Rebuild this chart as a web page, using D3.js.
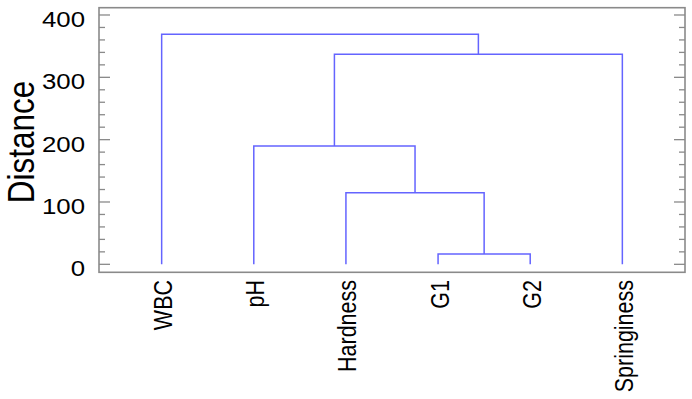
<!DOCTYPE html>
<html><head><meta charset="utf-8">
<script src="https://cdn.jsdelivr.net/npm/d3@7"></script>
<style>body{margin:0;background:#fff}svg{display:block}text{font-family:"Liberation Sans",Arial,sans-serif;fill:#000}</style>
</head><body>
<svg id="c" width="692" height="399"></svg>
<script>
// Data
const leaves = ["WBC", "pH", "Hardness", "G1", "G2", "Springiness"];
// merges: [left child, right child, distance]; merged clusters named m0, m1, ...
const mergeLeft = ["G1", "Hardness", "pH", "m2", "WBC"];
const mergeRight = ["G2", "m0", "m1", "Springiness", "m3"];
const mergeHeight = [16.5, 115, 190, 337, 369];
const yTicks = [0, 100, 200, 300, 400];
const yMinorTicks = d3.range(0, 401, 20);

const svg = d3.select("#c");
const L = 99, R = 685, T = 7.7, B = 272.3;
const sx = 1.2; // horizontal glyph stretch of the original
const x = d3.scalePoint().domain(leaves).range([L, R]).padding(0.68);
const y = d3.scaleLinear().domain([-12.8, 411.7]).range([B, T]);

// node positions
const pos = {};
leaves.forEach(l => pos[l] = {x: x(l), h: 0});
mergeLeft.forEach((a, i) => {
  const b = mergeRight[i], h = mergeHeight[i];
  pos["m" + i] = {x: (pos[a].x + pos[b].x) / 2, h: h};
});

const col = "#6464ff";
const g = svg.append("g");
mergeLeft.forEach((a, i) => {
  const b = mergeRight[i], h = mergeHeight[i];
  const p = d3.path();
  p.moveTo(pos[a].x, y(pos[a].h));
  p.lineTo(pos[a].x, y(h));
  p.lineTo(pos[b].x, y(h));
  p.lineTo(pos[b].x, y(pos[b].h));
  g.append("path").attr("d", p.toString()).attr("fill", "none")
    .attr("stroke", col).attr("stroke-width", 1.5);
});

// frame
const fc = "#8a8a8a";
svg.append("rect").attr("x", L).attr("y", T).attr("width", R - L).attr("height", B - T)
  .attr("fill", "none").attr("stroke", fc).attr("stroke-width", 1.6);

// ticks both sides
const tg = svg.append("g").attr("stroke", fc).attr("stroke-width", 1.3);
yMinorTicks.forEach(v => {
  const major = v % 100 === 0;
  const len = major ? 11 : 6;
  tg.append("line").attr("x1", L).attr("x2", L + len).attr("y1", y(v)).attr("y2", y(v));
  tg.append("line").attr("x1", R).attr("x2", R - len).attr("y1", y(v)).attr("y2", y(v));
});

// tick labels
yTicks.forEach(v => {
  svg.append("text").attr("transform", `translate(85,${y(v) + 12}) scale(${sx},1)`)
    .attr("text-anchor", "end").attr("font-size", 21.5).text(d3.format("d")(v));
});

// y title
svg.append("text").attr("transform", `translate(34,142) scale(1.15,1) rotate(-90)`)
  .attr("text-anchor", "middle").attr("font-size", 31.5).text("Distance");

// x labels
leaves.forEach(l => {
  svg.append("text").attr("transform", `translate(${x(l) + 10.5},280) scale(${sx},1) rotate(-90)`)
    .attr("text-anchor", "end").attr("font-size", 21.5).text(l);
});
</script>
</body></html>
